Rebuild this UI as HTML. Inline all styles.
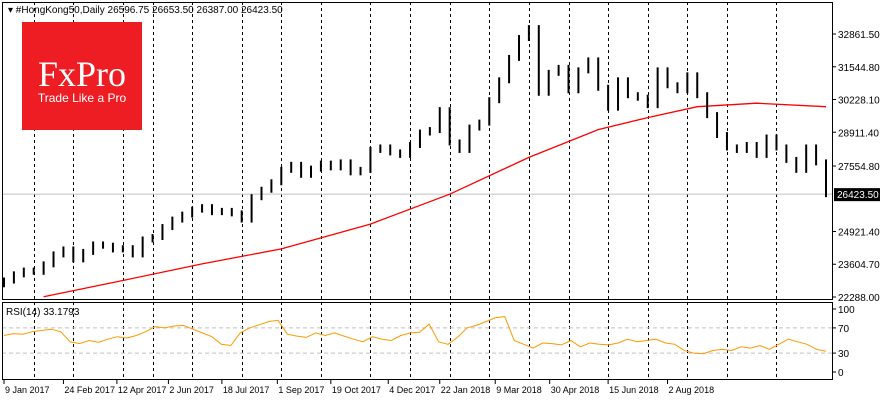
<!DOCTYPE html>
<html><head><meta charset="utf-8">
<style>
html,body{margin:0;padding:0;background:#fff;}
body{width:880px;height:400px;overflow:hidden;font-family:"Liberation Sans",sans-serif;}
svg text{font-family:"Liberation Sans",sans-serif;font-size:10px;fill:#000;}
svg text.dt{font-size:9px;}
</style></head><body>
<svg id="chart" width="880" height="400">
  <rect x="0" y="0" width="880" height="400" fill="#fff"/>
  <g id="grid"></g>
  <g id="ma"></g>
  <g id="bars"></g>
  <g id="rsi"></g>
  <g id="axes"></g>
  <g>
    <rect x="22" y="22" width="120" height="108" fill="#ee1d23"/>
    <text x="82" y="86" text-anchor="middle" style="font-family:'Liberation Serif',serif;font-size:36px;fill:#fff">FxPro</text>
    <text x="82" y="102" text-anchor="middle" style="font-size:12px;fill:#fff">Trade Like a Pro</text>
  </g>
  <text x="8" y="13">▾ #HongKong50,Daily  26596.75 26653.50 26387.00 26423.50</text>
</svg>
<script>
const closes=[22950,23200,23350,23300,23600,24000,24200,23800,24100,24400,24350,24200,24250,24000,24600,24700,25100,25400,25600,25800,25900,25700,25750,25650,25400,26300,26600,26900,27400,27600,27200,27450,27650,27500,27700,27300,27400,28200,28300,28100,28000,28400,28900,29000,29800,28500,28200,29100,29300,30200,31000,31900,32700,33100,30500,31300,31500,30600,31400,31800,30700,29900,31000,30400,30300,30000,31400,30800,30600,31200,30400,29600,28800,28300,28200,28400,28000,28700,28300,27800,27400,28300,27700,26423.5];
const maIdx=[4,12,20,28,37,45,53,60,65,70,76,83];
const maVals=[22300,22950,23620,24220,25220,26420,27900,29020,29500,29940,30080,29940];
const rsiVals=[58,61,60,64,66,68,64,48,45,50,47,52,56,54,58,64,72,70,73,74,68,62,56,44,42,62,70,75,80,82,60,57,55,62,58,62,57,52,48,56,52,50,58,62,63,76,48,44,55,70,74,80,86,88,50,44,38,46,45,43,50,40,46,44,43,46,52,48,50,52,46,44,34,30,29,34,36,34,40,38,42,36,44,52,48,44,36,33];
const xLabels=["9 Jan 2017","24 Feb 2017","12 Apr 2017","2 Jun 2017","18 Jul 2017","1 Sep 2017","19 Oct 2017","4 Dec 2017","22 Jan 2018","9 Mar 2018","30 Apr 2018","15 Jun 2018","2 Aug 2018"];
const xLabelIdx=[0,6,11.4,16.6,22,27.6,33,38.8,44,49.6,55.1,61,67];
const priceTicks=[32861.5,31544.8,30228.1,28911.4,27554.8,24921.4,23604.7,22288.0];
const rsiTicks=[100,70,30,0];
const sepIdx=[3,7,12,15,19,24,28,32,37,41,45,49,53,57,61,65,69,73,78];

const NS="http://www.w3.org/2000/svg";
function mk(tag,attrs,parent){const e=document.createElementNS(NS,tag);for(const k in attrs)e.setAttribute(k,attrs[k]);parent.appendChild(e);return e;}
const X0=4,X1=826,N=closes.length;
const xs=i=>X0+i*(X1-X0)/(N-1);
const yP=v=>34+(32861.5-v)*(297-34)/(32861.5-22288);
const yR=v=>372-v*0.63;
const grid=document.getElementById('grid'),bars=document.getElementById('bars'),ma=document.getElementById('ma'),rsi=document.getElementById('rsi'),axes=document.getElementById('axes');

sepIdx.forEach(i=>{const l=mk('line',{x1:Math.round(xs(i))+0.5,x2:Math.round(xs(i))+0.5,y1:2,y2:380,stroke:'#000','stroke-dasharray':'3,3','stroke-width':1},grid);

});

const cp=mk('line',{x1:2,x2:832,y1:yP(closes[N-1]),y2:yP(closes[N-1]),stroke:'#c0c0c0'},grid);



closes.forEach((c,i)=>{const o=i?closes[i-1]:c-150;const hi=Math.max(o,c)+120,lo=Math.min(o,c)-120;const x=xs(i);
const b=mk('line',{x1:x,x2:x,y1:yP(hi),y2:yP(lo),stroke:'#000','stroke-width':2},bars);

});

const maPts=maIdx.map((i,k)=>xs(i).toFixed(1)+','+yP(maVals[k]).toFixed(1)).join(' ');
const mp=mk('polyline',{points:maPts,fill:'none',stroke:'#f00','stroke-width':1.3},ma);



[70,30].forEach(v=>{const l=mk('line',{x1:2,x2:832,y1:yR(v),y2:yR(v),stroke:'#c0c0c0','stroke-dasharray':'4,3'},rsi);

});
const rx=i=>X0+i*(X1-X0)/(rsiVals.length-1);
const rp=mk('polyline',{points:rsiVals.map((v,i)=>rx(i).toFixed(1)+','+yR(v).toFixed(1)).join(' '),fill:'none',stroke:'#ff9900','stroke-width':1},rsi);


const rt=mk('text',{x:6,y:315},rsi);rt.textContent='RSI(14) 33.1793';



mk('rect',{x:2.5,y:2.5,width:830,height:297,fill:'none',stroke:'#000'},axes);
mk('rect',{x:2.5,y:302.5,width:830,height:77,fill:'none',stroke:'#000'},axes);
priceTicks.forEach(v=>{const y=yP(v);mk('line',{x1:832,x2:836,y1:y,y2:y,stroke:'#000'},axes);
const t=mk('text',{x:838,y:y+4},axes);t.textContent=v.toFixed(2);

});
const cy=yP(closes[N-1]);
mk('rect',{x:834,y:cy-6,width:46,height:13,fill:'#000'},axes);
const ct=mk('text',{x:837,y:cy+4,style:'fill:#fff'},axes);ct.textContent=closes[N-1].toFixed(2);


rsiTicks.forEach(v=>{const y=yR(v);mk('line',{x1:832,x2:836,y1:y,y2:y,stroke:'#000'},axes);
const t=mk('text',{x:838,y:y+4},axes);t.textContent=v;

});
xLabels.forEach((s,k)=>{const x=xs(xLabelIdx[k]);mk('line',{x1:x,x2:x,y1:380,y2:384,stroke:'#000'},axes);
const t=mk('text',{x:x+1,y:393,'class':'dt'},axes);t.textContent=s;

});
</script>
</body></html>
